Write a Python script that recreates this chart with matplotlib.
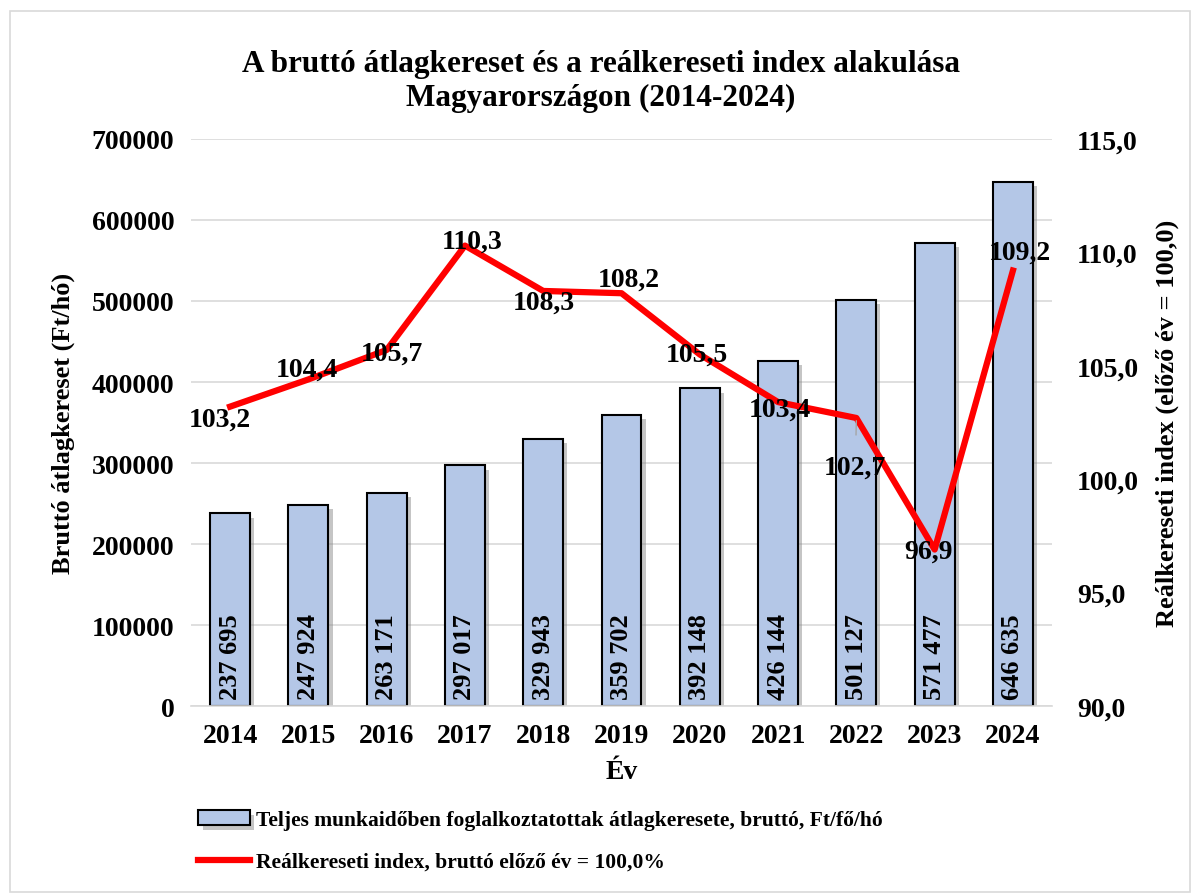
import numpy as np
import matplotlib.pyplot as plt
import matplotlib.patheffects as pe
from matplotlib.patches import Rectangle
from matplotlib.ticker import FuncFormatter

plt.rcParams['font.family'] = ['Liberation Serif', 'DejaVu Serif']
plt.rcParams['font.weight'] = 'bold'

# adatok
evek = ['2014', '2015', '2016', '2017', '2018', '2019', '2020', '2021', '2022', '2023', '2024']
kereset = [237695, 247924, 263171, 297017, 329943, 359702, 392148, 426144, 501127, 571477, 646635]
index = [103.2, 104.4, 105.7, 110.3, 108.3, 108.2, 105.5, 103.4, 102.7, 96.9, 109.2]
# cimke eltolas (pixel)
cimke_dx = [-10, -2, 5, 7, 1, 7, -3, 2, -1, -6, 7]
cimke_dy = [-13, 10, -3, 4, -11, 14, 0, -7, -49, -2, 18]

fs = 20
fig = plt.figure(figsize=(12.01, 8.95), dpi=100)
fig.patches.append(Rectangle((10/1201, 1-893/895), 1180/1201, 881/895, transform=fig.transFigure,
                             fill=False, edgecolor='#d9d9d9', lw=1.2))
ax = fig.add_axes([0.159, 0.21, 0.717, 0.6336])
x = np.arange(len(evek))

bars = ax.bar(x, kereset, width=0.51, color='#b4c7e7', edgecolor='black', linewidth=1.5, zorder=2,
              label='Teljes munkaidőben foglalkoztatottak átlagkeresete, bruttó, Ft/fő/hó')
for b in bars:
    b.set_path_effects([pe.SimplePatchShadow(offset=(3, -3), shadow_rgbFace='gray', alpha=0.45), pe.Normal()])
for xi, v in zip(x, kereset):
    s = '{:,}'.format(v).replace(',', ' ')
    ax.annotate(s, (xi, 0), xytext=(0, 7), textcoords='offset pixels', rotation=90,
                ha='center', va='bottom', fontsize=fs - 1, fontweight='bold', zorder=3)

ax.set_ylim(0, 700000)
ax.set_xlim(-0.5, len(evek) - 0.5)
ax.set_yticks(np.arange(0, 700001, 100000))
ax.set_xticks(x)
ax.set_xticklabels(evek)
ax.grid(axis='y', color='#d9d9d9', lw=1.2, zorder=0)
ax.set_axisbelow(True)
for sp in ['top', 'right', 'left']:
    ax.spines[sp].set_visible(False)
ax.spines['bottom'].set_color('#d9d9d9')
ax.spines['bottom'].set_linewidth(1.2)
ax.tick_params(length=0, labelsize=fs, pad=12)
ax.set_ylabel('Bruttó átlagkereset (Ft/hó)', fontsize=fs - 1, fontweight='bold', labelpad=12)
ax.set_xlabel('Év', fontsize=fs, fontweight='bold', labelpad=8)

ax2 = ax.twinx()
ax2.set_ylim(90, 115)
ax2.set_yticks(np.arange(90, 115.1, 5))
ax2.yaxis.set_major_formatter(FuncFormatter(lambda v, p: '{:.1f}'.format(v).replace('.', ',')))
for sp in ax2.spines.values():
    sp.set_visible(False)
ax2.tick_params(length=0, labelsize=fs, pad=18)
ax2.set_ylabel('Reálkereseti index (előző év = 100,0)', fontsize=fs - 1, fontweight='bold', labelpad=12)
line, = ax2.plot(x, index, color='#ff0000', lw=4.5, zorder=4,
                 label='Reálkereseti index, bruttó előző év = 100,0%')
for i, v in enumerate(index):
    s = '{:.1f}'.format(v).replace('.', ',')
    kw = {}
    if i == 8:
        kw = dict(arrowprops=dict(arrowstyle='-', color='#a6a6a6', lw=1, shrinkA=12, shrinkB=2))
    ax2.annotate(s, (x[i], v), xytext=(cimke_dx[i], cimke_dy[i]), textcoords='offset pixels',
                 ha='center', va='center', fontsize=fs, fontweight='bold', zorder=5, **kw)

fig.suptitle('A bruttó átlagkereset és a reálkereseti index alakulása\nMagyarországon (2014-2024)',
             y=0.944, fontsize=22.5, fontweight='bold', linespacing=1.2)

fig.legend(handles=[bars, line], loc='upper left', bbox_to_anchor=(0.158, 0.103), frameon=False,
           fontsize=15.5, handlelength=2.4, handletextpad=0.3, labelspacing=1.0, borderaxespad=0)

fig.savefig('out.png', dpi=100)
